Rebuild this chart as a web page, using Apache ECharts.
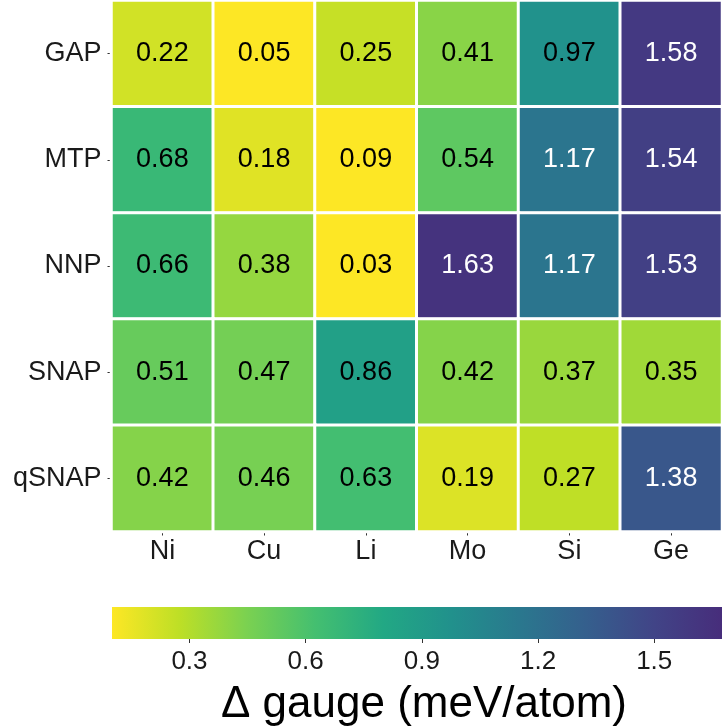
<!DOCTYPE html>
<html>
<head>
<meta charset="utf-8">
<script src="https://cdn.jsdelivr.net/npm/echarts@6/dist/echarts.min.js"></script>
<style>html,body{margin:0;padding:0;background:#fff;}#c{width:722px;height:728px;}</style>
</head>
<body>
<div id="c"></div>
<script>
const elements = ['Ni', 'Cu', 'Li', 'Mo', 'Si', 'Ge'];
const models = ['GAP', 'MTP', 'NNP', 'SNAP', 'qSNAP'];
const gapValues   = [0.22, 0.05, 0.25, 0.41, 0.97, 1.58];
const mtpValues   = [0.68, 0.18, 0.09, 0.54, 1.17, 1.54];
const nnpValues   = [0.66, 0.38, 0.03, 1.63, 1.17, 1.53];
const snapValues  = [0.51, 0.47, 0.86, 0.42, 0.37, 0.35];
const qsnapValues = [0.42, 0.46, 0.63, 0.19, 0.27, 1.38];
const colorbarTicks = [0.3, 0.6, 0.9, 1.2, 1.5];
const colorbarRange = [0.1, 1.675];
const palette = ['#fde725', '#bddf26', '#7ad151', '#44bf70', '#22a884', '#21918c', '#2a788e', '#355f8d', '#414487', '#472d7b'];

const rows = [gapValues, mtpValues, nnpValues, snapValues, qsnapValues];
const heatData = [];
rows.forEach((vals, r) => {
  vals.forEach((v, c) => heatData.push({value: [c, r, v], label: {color: v > 1 ? '#ffffff' : '#000000'}}));
});

const font = 'Liberation Sans, Arial, sans-serif';
const chart = echarts.init(document.getElementById('c'), null, {renderer: 'canvas'});
chart.setOption({
  animation: false,
  backgroundColor: '#ffffff',
  grid: [
    {left: 111.5, right: 0, top: 0.5, bottom: 196.5},
    {left: 112, right: 0, top: 607, height: 34}
  ],
  xAxis: [
    {
      type: 'category', data: elements, gridIndex: 0,
      axisLine: {show: false},
      axisTick: {show: true, length: 4, alignWithLabel: true, lineStyle: {color: '#333', width: 1}},
      axisLabel: {fontSize: 27, color: '#1a1a1a', fontFamily: font, margin: 7},
      splitLine: {show: false}
    },
    {
      type: 'value', gridIndex: 1, min: colorbarRange[0], max: colorbarRange[1],
      axisLine: {show: false},
      axisTick: {show: true, length: 4, customValues: colorbarTicks, lineStyle: {color: '#333', width: 1}},
      axisLabel: {fontSize: 26, color: '#1a1a1a', fontFamily: font, margin: 10, customValues: colorbarTicks,
        formatter: v => v.toFixed(1)},
      splitLine: {show: false},
      name: 'Δ gauge (meV/atom)', nameLocation: 'middle', nameGap: 44,
      nameTextStyle: {fontSize: 44, color: '#000', fontFamily: font, padding: [0, 0, 0, 14]}
    }
  ],
  yAxis: [
    {
      type: 'category', data: models, inverse: true, gridIndex: 0,
      axisLine: {show: false},
      axisTick: {show: true, length: 4, alignWithLabel: true, lineStyle: {color: '#333', width: 1}},
      axisLabel: {fontSize: 27, color: '#1a1a1a', fontFamily: font, margin: 10},
      splitLine: {show: false}
    },
    {type: 'value', gridIndex: 1, min: 0, max: 1, show: false}
  ],
  visualMap: {
    show: false, type: 'continuous', min: colorbarRange[0], max: colorbarRange[1],
    dimension: 2, seriesIndex: 0, inRange: {color: palette}
  },
  series: [
    {
      type: 'heatmap', xAxisIndex: 0, yAxisIndex: 0, data: heatData,
      itemStyle: {borderColor: '#ffffff', borderWidth: 3},
      label: {
        show: true, fontSize: 27, fontFamily: font,
        formatter: p => p.value[2].toFixed(2)
      }
    },
    {
      type: 'custom', xAxisIndex: 1, yAxisIndex: 1, data: [[colorbarRange[0], colorbarRange[1]]],
      renderItem: (params, api) => {
        const p0 = api.coord([api.value(0), 1]);
        const p1 = api.coord([api.value(1), 0]);
        const stops = palette.map((c, i) => ({offset: i / (palette.length - 1), color: c}));
        return {
          type: 'rect',
          shape: {x: p0[0], y: p0[1], width: p1[0] - p0[0], height: p1[1] - p0[1]},
          style: {fill: new echarts.graphic.LinearGradient(0, 0, 1, 0, stops)}
        };
      }
    }
  ]
});
</script>
</body>
</html>
